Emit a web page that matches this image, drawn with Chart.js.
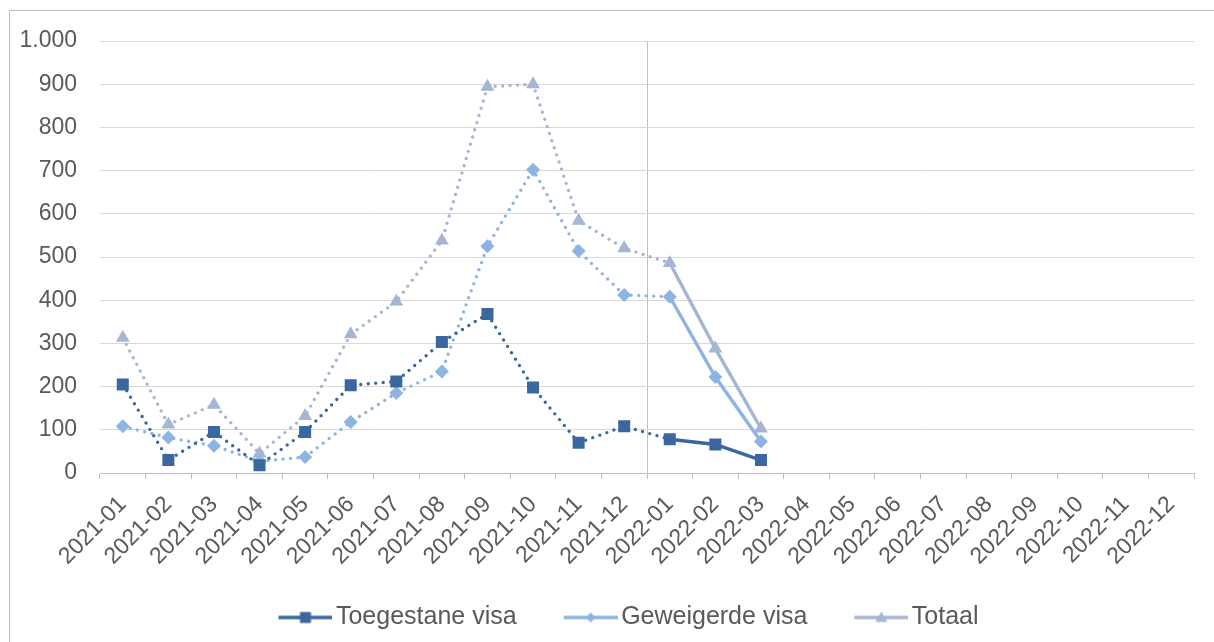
<!DOCTYPE html>
<html>
<head>
<meta charset="utf-8">
<script src="https://cdn.jsdelivr.net/npm/chart.js@4/dist/chart.umd.min.js"></script>
<style>
html,body{margin:0;padding:0;background:#fff;}
#wrap{width:1214px;height:642px;position:relative;}
</style>
</head>
<body>
<div id="wrap"><canvas id="c" width="1214" height="642"></canvas></div>
<script>
const categories = ['2021-01','2021-02','2021-03','2021-04','2021-05','2021-06','2021-07','2021-08','2021-09','2021-10','2021-11','2021-12',
                    '2022-01','2022-02','2022-03','2022-04','2022-05','2022-06','2022-07','2022-08','2022-09','2022-10','2022-11','2022-12'];
const toegestane = [205, 30, 95, 18, 95, 203, 212, 303, 368, 198, 70, 108, 78, 66, 30];
const geweigerd  = [108, 82, 63, 27, 37, 118, 185, 235, 525, 702, 514, 412, 408, 222, 73];
const totaal     = [313, 112, 158, 45, 132, 321, 397, 538, 894, 900, 584, 520, 486, 288, 103];
const seriesNames = ['Toegestane visa', 'Geweigerde visa', 'Totaal'];
const yTicks = [0,100,200,300,400,500,600,700,800,900,1000];

const colors = ['#3A67A0', '#8DB4E2', '#A5B5D3'];
const styles = ['rect', 'rectRot', 'triangle'];
const radii = [8.5, 7, 8];
const solidFrom = 12;

function pad(arr){ const a = arr.slice(); while(a.length < categories.length) a.push(null); return a; }
function fmt(v){ const s = String(v); return s.replace(/\B(?=(\d{3})+(?!\d))/g, '.'); }

function legendImage(i){
  const B = 82, W = B + 18, H = 16;
  const cv = document.createElement('canvas');
  cv.width = W; cv.height = H;
  const g = cv.getContext('2d');
  g.strokeStyle = colors[i]; g.fillStyle = colors[i];
  g.lineWidth = 3.5;
  const x0 = W - 54, x1 = W, cx = (x0 + x1)/2, cy = H/2;
  g.beginPath(); g.moveTo(x0, cy); g.lineTo(x1, cy); g.stroke();
  g.beginPath();
  if (i === 0) { g.rect(cx-5.5, cy-5.5, 11, 11); }
  else if (i === 1) { g.moveTo(cx, cy-5); g.lineTo(cx+5, cy); g.lineTo(cx, cy+5); g.lineTo(cx-5, cy); g.closePath(); }
  else { g.moveTo(cx, cy-6); g.lineTo(cx+6, cy+4.5); g.lineTo(cx-6, cy+4.5); g.closePath(); }
  g.fill();
  return cv;
}
const legendImgs = [0,1,2].map(legendImage);

const dataArrays = [toegestane, geweigerd, totaal];
const datasets = dataArrays.map((d, i) => ({
  label: seriesNames[i],
  data: pad(d),
  borderColor: colors[i],
  backgroundColor: colors[i],
  borderWidth: 3.4,
  borderCapStyle: 'round',
  pointStyle: styles[i],
  pointRadius: radii[i],
  pointHoverRadius: radii[i],
  pointBorderWidth: 0,
  pointBackgroundColor: colors[i],
  tension: 0,
  spanGaps: false,
  segment: {
    borderDash: ctx => ctx.p0DataIndex < solidFrom ? [0, 7.5] : []
  }
}));

const framePlugin = {
  id: 'frame',
  afterLayout(chart){
    if (chart.legend) { chart.legend.left += 6; chart.legend.right += 6; }
  },
  beforeDraw(chart){
    const c = chart.ctx;
    c.save();
    c.fillStyle = '#fff';
    c.fillRect(0,0,chart.width,chart.height);
    c.strokeStyle = '#BFBFBF';
    c.lineWidth = 1;
    c.strokeRect(9.5, 10.5, 1300, 700);
    c.restore();
  }
};

new Chart(document.getElementById('c'), {
  type: 'line',
  data: { labels: categories, datasets },
  plugins: [framePlugin],
  options: {
    responsive: false,
    animation: false,
    layout: { autoPadding: false, padding: { left: 14, right: 20, top: 41, bottom: 2 } },
    plugins: {
      tooltip: { enabled: false },
      legend: {
        position: 'bottom',
        labels: {
          usePointStyle: true,
          pointStyleWidth: 82,
          boxHeight: 16,
          padding: 10,
          color: '#595959',
          font: { family: 'Liberation Sans, Arial, sans-serif', size: 25 },
          generateLabels(chart){
            const items = Chart.defaults.plugins.legend.labels.generateLabels(chart);
            items.forEach((it, i) => { it.pointStyle = legendImgs[i]; });
            return items;
          }
        }
      }
    },
    scales: {
      x: {
        offset: true,
        grid: {
          offset: true,
          drawOnChartArea: true,
          color: ctx => ctx.index === solidFrom ? '#BFBFBF' : 'rgba(0,0,0,0)',
          tickColor: '#BFBFBF',
          tickLength: 6,
          lineWidth: 1
        },
        border: { display: true, color: '#BFBFBF', width: 1 },
        ticks: {
          autoSkip: false,
          minRotation: 45,
          maxRotation: 45,
          padding: 12,
          color: '#595959',
          font: { family: 'Liberation Sans, Arial, sans-serif', size: 23 }
        },
        afterFit(scale){ scale.height = 122; }
      },
      y: {
        min: 0,
        max: 1000,
        afterBuildTicks(scale){ scale.ticks = yTicks.map(v => ({ value: v })); },
        grid: { color: '#D9D9D9', lineWidth: 1, drawTicks: false },
        border: { display: false },
        ticks: {
          padding: 23,
          color: '#595959',
          font: { family: 'Liberation Sans, Arial, sans-serif', size: 23 },
          callback: v => fmt(v)
        },
        afterFit(scale){ scale.width = 86; }
      }
    }
  }
});
</script>
</body>
</html>
